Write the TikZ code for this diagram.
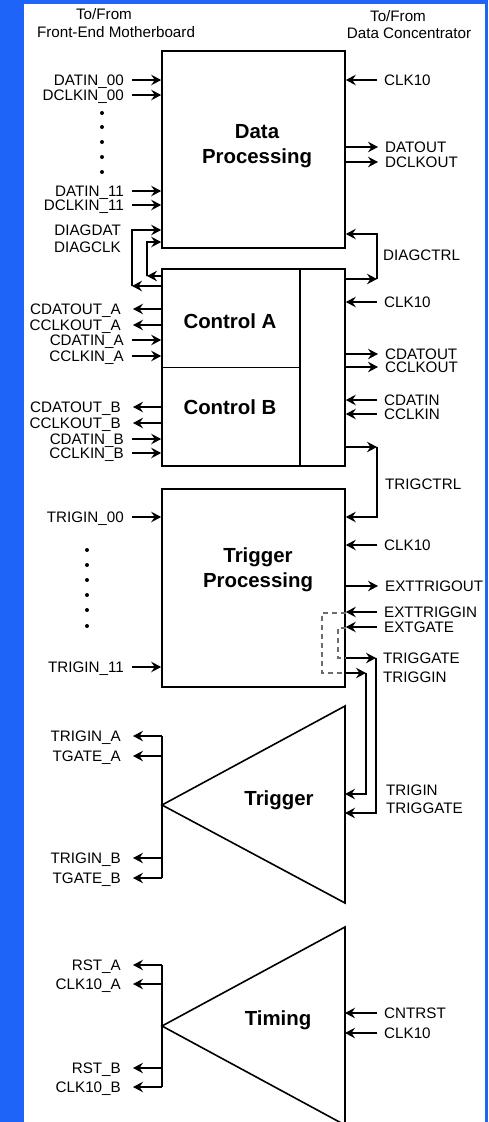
\documentclass[tikz,border=0pt]{standalone}
\usepackage{fontspec}
\setmainfont{Liberation Sans}
\usetikzlibrary{arrows.meta,positioning,calc}
\definecolor{frameblue}{HTML}{1F64F8}

\begin{document}
\begin{tikzpicture}[x=1pt,y=-1pt,line join=miter,
    font=\fontsize{15.2}{18}\selectfont,
    blk/.style={draw,line width=1.6pt,minimum width=183pt,inner sep=0pt},
    blkname/.style={font=\fontsize{20.4}{25.5}\selectfont\bfseries,align=center,inner sep=0pt},
    wire/.style={line width=1.6pt},
    sig/.style={wire,-{Stealth[length=10pt,width=10.5pt,inset=3.5pt]}},
    lsig/.style={anchor=east,inner xsep=8pt,inner ysep=0pt,text height=10.9pt,text depth=0pt},
    rsig/.style={anchor=west,inner xsep=7pt,inner ysep=0pt,text height=10.9pt,text depth=0pt},
    txt/.style={inner sep=0pt},
    lpbk/.style={draw=gray!85!black,dash pattern=on 5pt off 4pt,line width=1.2pt},
    bdot/.style={circle,fill,inner sep=0pt,minimum size=4pt}]

    % page and blue frame
    \useasboundingbox (0,0) rectangle (488,1122);
    \fill[frameblue] (0,0) rectangle (488,1122);
    \fill[white] (24,4) rectangle (485,1122);

    % headers
    \node (hdfa) at (104,14) {To/From};
    \node (hdfb) at (116,32) {Front-End Motherboard};
    \node (hdca) at (398,16) {To/From};
    \node (hdcb) at (409,33) {Data Concentrator};

    % blocks
    \node[blk,minimum height=197pt] (dp) at (253.5,149.5) {};
    \node[blk,minimum height=197pt] (ctl) at (253.5,367.5) {};
    \node[blk,minimum height=198pt] (tp) at (253.5,588) {};
    \draw[wire] ([xshift=46.5pt]ctl.north) -- ([xshift=46.5pt]ctl.south);
    \draw[wire] (ctl.west) -- ([xshift=46.5pt]ctl.center);

    \node[blkname] (dpname) at (257,146) {Data\\Processing};
    \node[blkname] (ctla) at (230,321) {Control A};
    \node[blkname] (ctlb) at (230,407) {Control B};
    \node[blkname] (tpname) at (258,570) {Trigger\\Processing};

    % trigger and timing fan-outs
    \coordinate (trgtop) at (345,706);
    \coordinate (trgbot) at (345,903);
    \coordinate (trgtip) at (162,805);
    \draw[wire] (trgtop) -- (trgbot) -- (trgtip) -- cycle;
    \node[blkname] (trgname) at (279,800) {Trigger};
    \coordinate (tmgtop) at (345,927);
    \coordinate (tmgbot) at (345,1125);
    \coordinate (tmgtip) at (162,1026);
    \draw[wire] (tmgtop) -- (tmgbot) -- (tmgtip) -- cycle;
    \node[blkname] (tmgname) at (278,1020) {Timing};

    % left side inputs
    \foreach \id/\txt/\yy/\blk in {
        da00/DATIN\_00/80/dp.west, dc00/DCLKIN\_00/95/dp.west,
        da11/DATIN\_11/191/dp.west, dc11/DCLKIN\_11/205/dp.west,
        cdia/CDATIN\_A/340/ctl.west, ccia/CCLKIN\_A/356/ctl.west,
        cdib/CDATIN\_B/439/ctl.west, ccib/CCLKIN\_B/453/ctl.west,
        tg00/TRIGIN\_00/517/tp.west, tg11/TRIGIN\_11/667/tp.west}
      {\node[lsig] (\id) at (132,\yy) {\txt};
       \draw[sig] (\id.east) -- (\blk |- \id.east);}

    % left side outputs
    \foreach \id/\txt/\yy/\blk in {
        cdoa/CDATOUT\_A/309/ctl.west, ccoa/CCLKOUT\_A/325/ctl.west,
        cdob/CDATOUT\_B/407/ctl.west, ccob/CCLKOUT\_B/423/ctl.west,
        tina/TRIGIN\_A/736/trgtip, tgta/TGATE\_A/756/trgtip,
        tinb/TRIGIN\_B/858/trgtip, tgtb/TGATE\_B/878/trgtip,
        rsta/RST\_A/965/tmgtip, ckta/CLK10\_A/984/tmgtip,
        rstb/RST\_B/1068/tmgtip, cktb/CLK10\_B/1087/tmgtip}
      {\node[lsig,inner xsep=12pt] (\id) at (133,\yy) {\txt};
       \draw[sig] (\blk |- \id.east) -- (\id.east);}
    \draw[wire] (trgtip |- tina.east) -- (trgtip |- tgtb.east);
    \draw[wire] (tmgtip |- rsta.east) -- (tmgtip |- cktb.east);

    % right side inputs
    \foreach \id/\txt/\yy/\blk in {
        ckdp/CLK10/80/dp.east, ckct/CLK10/302/ctl.east,
        cdin/CDATIN/400/ctl.east, ccin/CCLKIN/414/ctl.east,
        cktp/CLK10/545/tp.east, etin/EXTTRIGGIN/612/tp.east,
        egin/EXTGATE/627/tp.east,
        crst/CNTRST/1013/tmgtop, cktm/CLK10/1033/tmgtop}
      {\node[rsig] (\id) at (377,\yy) {\txt};
       \draw[sig] (\id.west) -- (\blk |- \id.west);}

    % right side outputs
    \foreach \id/\txt/\yy/\blk in {
        dout/DATOUT/147/dp.east, dcko/DCLKOUT/162/dp.east,
        cdou/CDATOUT/354/ctl.east, ccou/CCLKOUT/367/ctl.east,
        etou/EXTTRIGOUT/586/tp.east}
      {\node[rsig] (\id) at (378,\yy) {\txt};
       \draw[sig] (\blk |- \id.west) -- (\id.west);}

    % dots
    \foreach \yy in {113,127,142,157,172}
      \node[bdot] (dd\yy) at (102,\yy) {};
    \foreach \yy in {550,565,580,595,610,626}
      \node[bdot] (td\yy) at (87,\yy) {};

    % diagnostic loop-back
    \node[txt,anchor=east] (dgdtxt) at (121,230) {DIAGDAT};
    \node[txt,anchor=east] (dgctxt) at (121,247) {DIAGCLK};
    \coordinate (dgdat) at (132,286);
    \coordinate (dgclk) at (147,276);
    \coordinate (dgclkin) at (147,242);
    \draw[sig] (ctl.west |- dgdat) -- (dgdat);
    \draw[sig] (dgdat) |- (dp.west |- dgdtxt);
    \draw[sig] (ctl.west |- dgclk) -- (dgclk);
    \draw[sig] (dgclk) -- (dgclkin) -- (dp.west |- dgclkin);

    % control links
    \node[txt,anchor=west] (dgctl) at (383,255) {DIAGCTRL};
    \coordinate (dgcout) at (377,279);
    \coordinate (dgcin) at (377,234);
    \draw[sig] (ctl.east |- dgcout) -- (dgcout);
    \draw[sig] (dgcout) -- (dgcin) -- (dp.east |- dgcin);
    \node[txt,anchor=west] (tctl) at (385,484) {TRIGCTRL};
    \coordinate (tcout) at (377,447);
    \coordinate (tcin) at (377,517);
    \draw[sig] (ctl.east |- tcout) -- (tcout);
    \draw[sig] (tcout) -- (tcin) -- (tp.east |- tcin);

    % trigger links
    \node[txt,anchor=west] (tgtx) at (383,658) {TRIGGATE};
    \node[txt,anchor=west] (titx) at (383,677) {TRIGGIN};
    \node[txt,anchor=west] (trtx) at (386,790) {TRIGIN};
    \node[txt,anchor=west] (tgtx2) at (386,808) {TRIGGATE};
    \coordinate (tgout) at (376,658);
    \coordinate (tiout) at (366,673);
    \coordinate (tgin) at (376,813);
    \coordinate (tiin) at (366,794);
    \draw[sig] (tp.east |- tgout) -- (tgout);
    \draw[sig] (tp.east |- tiout) -- (tiout);
    \draw[sig] (tgout) -- (tgin) -- (trgtop |- tgin);
    \draw[sig] (tiout) -- (tiin) -- (trgtop |- tiin);

    % external loop-backs
    \coordinate (lbtop) at (322,613);
    \coordinate (lbbot) at (322,673);
    \draw[lpbk] (tp.east |- lbtop) -- (lbtop) -- (lbbot) -- (tp.east |- lbbot);
    \coordinate (lgtop) at (338,628);
    \coordinate (lgbot) at (338,658);
    \draw[lpbk] (tp.east |- lgtop) -- (lgtop) -- (lgbot) -- (tp.east |- lgbot);
\end{tikzpicture}
\end{document}
